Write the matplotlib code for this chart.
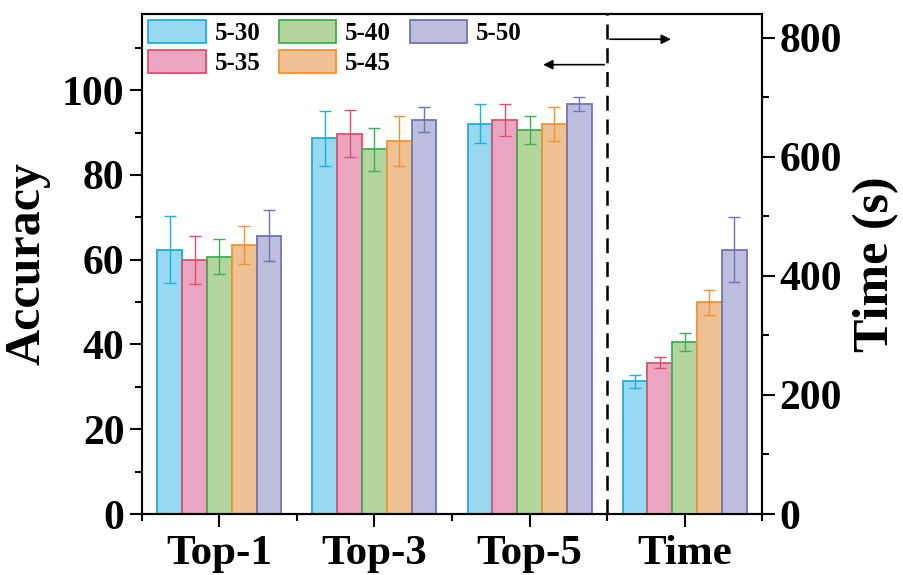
import numpy as np
import matplotlib
matplotlib.use("Agg")
import matplotlib.pyplot as plt
from matplotlib.ticker import MultipleLocator

plt.rcParams["font.family"] = "Liberation Serif"
plt.rcParams["font.weight"] = "bold"

groups = ["Top-1", "Top-3", "Top-5", "Time"]
settings = ["5-30", "5-35", "5-40", "5-45", "5-50"]

# accuracy per setting for Top-1, Top-3, Top-5
acc = {
    "5-30": [62.4, 88.6, 92.1],
    "5-35": [60.0, 89.7, 93.0],
    "5-40": [60.7, 86.0, 90.7],
    "5-45": [63.4, 88.1, 92.1],
    "5-50": [65.7, 93.0, 96.7],
}
acc_err = {
    "5-30": [7.9, 6.5, 4.6],
    "5-35": [5.7, 5.5, 3.8],
    "5-40": [4.1, 5.1, 3.3],
    "5-45": [4.5, 5.9, 4.0],
    "5-50": [6.0, 2.9, 1.6],
}
# time in seconds
time_s = {"5-30": 223, "5-35": 254, "5-40": 289, "5-45": 356, "5-50": 444}
time_err = {"5-30": 11, "5-35": 9.5, "5-40": 14.5, "5-45": 21, "5-50": 54}

fills = ["#98d8f1", "#eaa6c1", "#b5d59e", "#eec194", "#bdbedd"]
edges = ["#1ab0e2", "#e0506a", "#3cb050", "#f5922e", "#6e74b8"]

fig = plt.figure(figsize=(9.04, 5.75), dpi=100)
ax = fig.add_axes([0.157, 0.106, 0.686, 0.870])
ax2 = ax.twinx()

width = 0.16
x = np.arange(3)
for i, s in enumerate(settings):
    off = (i - 2) * width
    ax.bar(x + off, acc[s], width, color=fills[i], edgecolor=edges[i], linewidth=1.3, label=s)
    ax.errorbar(x + off, acc[s], yerr=acc_err[s], fmt="none", ecolor=edges[i],
                elinewidth=1.0, capsize=4.5, capthick=1.0)
    ax2.bar(3 + off, time_s[s], width, color=fills[i], edgecolor=edges[i], linewidth=1.3)
    ax2.errorbar(3 + off, time_s[s], yerr=time_err[s], fmt="none", ecolor=edges[i],
                 elinewidth=1.0, capsize=4.5, capthick=1.0)

ax.set_xlim(-0.5, 3.5)
ax.set_ylim(0, 118)
ax2.set_ylim(0, 840)

ax.set_xticks(range(4))
ax.set_xticklabels(groups)
ax.xaxis.set_minor_locator(MultipleLocator(0.5))
ax.yaxis.set_major_locator(MultipleLocator(20))
ax.yaxis.set_minor_locator(MultipleLocator(10))
ax2.yaxis.set_major_locator(MultipleLocator(200))
ax2.yaxis.set_minor_locator(MultipleLocator(100))

for a in (ax, ax2):
    for sp in a.spines.values():
        sp.set_linewidth(1.5)
    a.tick_params(which="major", direction="out", length=9, width=1.5, labelsize=30)
    a.tick_params(which="minor", direction="out", length=5, width=1.5)
ax.tick_params(axis="x", which="minor", length=5)
ax.tick_params(axis="x", pad=6, labelsize=31)

ax.set_ylabel("Accuracy", fontsize=36, fontweight="bold", labelpad=8)
ax2.set_ylabel("Time (s)", fontsize=36, fontweight="bold", labelpad=8)

# separator and direction arrows
ax.axvline(2.5, color="black", linestyle=(0, (6, 3.5)), linewidth=1.8)
ax.annotate("", xy=(2.07, 106), xytext=(2.5, 106),
            arrowprops=dict(arrowstyle="-|>", color="black", lw=1.2, mutation_scale=14))
ax.annotate("", xy=(2.93, 112), xytext=(2.5, 112),
            arrowprops=dict(arrowstyle="-|>", color="black", lw=1.2, mutation_scale=14))

ax.legend(loc="upper left", bbox_to_anchor=(0.0, 1.0), ncol=3, frameon=False,
          prop={"size": 18, "weight": "bold"}, handlelength=2.3, handleheight=1.05,
          handletextpad=0.35, columnspacing=0.75, labelspacing=0.2, borderpad=0.1,
          borderaxespad=0.15)

fig.savefig("out.png", dpi=100)
